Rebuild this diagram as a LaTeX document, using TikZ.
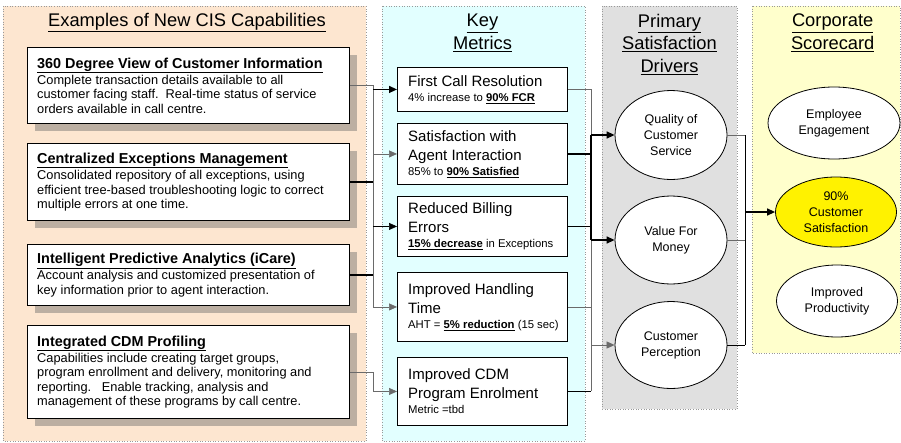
\documentclass[tikz,border=0pt]{standalone}
\usepackage{fontspec}
\setmainfont{Liberation Sans}
\usetikzlibrary{shapes.geometric,arrows.meta,shadows}
\definecolor{peach}{HTML}{FDE6D0}
\definecolor{cyanbg}{HTML}{E2FFFF}
\definecolor{greybg}{HTML}{E0E0E0}
\definecolor{yellowbg}{HTML}{FFFFCC}
\definecolor{shadowc}{HTML}{BCAFA2}
\definecolor{linegrey}{HTML}{6A6A6A}
\begin{document}
\begin{tikzpicture}[x=1pt,y=-1pt,
  panel/.style={draw=gray!80, dotted, line width=0.6pt},
  ttl/.style={font=\fontsize{18.3}{22.5}\selectfont, align=center, inner sep=0pt, anchor=north},
  capbox/.style={draw=black, line width=0.9pt, fill=white, rectangle, anchor=north west,
     minimum width=322pt, inner sep=0pt,
     general shadow={fill=shadowc, shadow xshift=8pt, shadow yshift=-8pt}},
  captext/.style={anchor=west, align=left, inner sep=0pt, font=\fontsize{12.8}{14.4}\selectfont},
  mbox/.style={draw=black, line width=0.9pt, fill=white, rectangle, anchor=north west,
     minimum width=170pt, inner sep=0pt},
  mtext/.style={anchor=west, align=left, inner sep=0pt, font=\fontsize{15}{19}\selectfont},
  ell/.style={ellipse, draw=black, line width=0.8pt, fill=white, inner sep=0pt,
     align=center, font=\fontsize{12.5}{16}\selectfont},
  thinc/.style={draw=linegrey, line width=0.7pt},
  thickc/.style={draw=black, line width=1.3pt},
  tip/.style={-{Triangle[length=8pt,width=7pt]}}
]
\newcommand{\smalltxt}{\fontsize{11.3}{12}\selectfont}
\newcommand{\caphd}[1]{{\fontsize{14.4}{14.4}\selectfont\bfseries\underline{#1}}}
\useasboundingbox (0,0) rectangle (901,442);
% panels
\fill[peach] (3,6) rectangle (366,441);
\draw[panel] (3,6) rectangle (366,441);
\fill[cyanbg] (382,6) rectangle (585,441);
\draw[panel] (382,6) rectangle (585,441);
\fill[greybg] (602,6) rectangle (737,409);
\draw[panel] (602,6) rectangle (737,409);
\fill[yellowbg] (752,6) rectangle (900,353);
\draw[panel] (752,6) rectangle (900,353);

% titles
\node[ttl] (t1) at (187,13) {\underline{Examples of New CIS Capabilities}};
\node[ttl] (t2) at (482.5,14) {\underline{Key}\\\underline{Metrics}};
\node[ttl] (t3) at (669.5,14) {\underline{Primary}\\\underline{Satisfaction}\\\underline{Drivers}};
\node[ttl] (t4) at (832.7,14) {\underline{Corporate}\\\underline{Scorecard}};

% capability boxes
\node[capbox, minimum height=76pt] (c1) at (27,47) {};
\node[captext] (c1t) at ([xshift=10pt]c1.west) {\caphd{360 Degree View of Customer Information}\\[2pt]
Complete transaction details available to all\\
customer facing staff.\ \ Real-time status of service\\
orders available in call centre.};

\node[capbox, minimum height=77pt] (c2) at (27,143) {};
\node[captext] (c2t) at ([xshift=10pt]c2.west) {\caphd{Centralized Exceptions Management}\\[2pt]
Consolidated repository of all exceptions, using\\
efficient tree-based troubleshooting logic to correct\\
multiple errors at one time.};

\node[capbox, minimum height=61pt] (c3) at (27,244) {};
\node[captext] (c3t) at ([xshift=10pt]c3.west) {\caphd{Intelligent Predictive Analytics (iCare)}\\[2pt]
Account analysis and customized presentation of\\
key information prior to agent interaction.};

\node[capbox, minimum height=93pt] (c4) at (27,325) {};
\node[captext] (c4t) at ([xshift=10pt]c4.west) {\caphd{Integrated CDM Profiling}\\[2pt]
Capabilities include creating target groups,\\
program enrollment and delivery, monitoring and\\
reporting.\ \ \ Enable tracking, analysis and\\
management of these programs by call centre.};

% metric boxes
\node[mbox, minimum height=44pt] (m1) at (397,67) {};
\node[mtext] (m1t) at ([xshift=11pt]m1.west) {First Call Resolution\\[-4pt]
{\smalltxt 4\% increase to \textbf{\underline{90\% FCR}}}};

\node[mbox, minimum height=61pt] (m2) at (397,123) {};
\node[mtext] (m2t) at ([xshift=11pt]m2.west) {Satisfaction with\\Agent Interaction\\[-4pt]
{\smalltxt 85\% to \textbf{\underline{90\% Satisfied}}}};

\node[mbox, minimum height=60pt] (m3) at (397,196) {};
\node[mtext] (m3t) at ([xshift=11pt]m3.west) {Reduced Billing\\Errors\\[-4pt]
{\smalltxt \textbf{\underline{15\% decrease}} in Exceptions}};

\node[mbox, minimum height=69pt] (m4) at (397,272) {};
\node[mtext] (m4t) at ([xshift=11pt]m4.west) {Improved Handling\\Time\\[-4pt]
{\smalltxt AHT = \textbf{\underline{5\% reduction}} (15 sec)}};

\node[mbox, minimum height=68pt] (m5) at (397,357) {};
\node[mtext] (m5t) at ([xshift=11pt]m5.west) {Improved CDM\\Program Enrolment\\[-4pt]
{\smalltxt Metric =tbd}};

% driver ellipses
\node[ell, minimum width=112pt, minimum height=89pt] (q) at (671,135) {Quality of\\Customer\\Service};
\node[ell, minimum width=112pt, minimum height=88pt] (v) at (671,240) {Value For\\Money};
\node[ell, minimum width=112pt, minimum height=87pt] (p) at (671,345) {Customer\\Perception};

% scorecard ellipses
\node[ell, minimum width=132pt, minimum height=72pt] (e) at (834,123) {Employee\\Engagement};
\node[ell, fill=yellow, minimum width=121pt, minimum height=70pt] (s) at (836,212) {90\%\\Customer\\Satisfaction};
\node[ell, minimum width=121pt, minimum height=72pt] (ip) at (837,301) {Improved\\Productivity};

% bus coordinates
\coordinate (lb) at (373,0);
\coordinate (rb) at (591,0);
\coordinate (eb) at (745,0);

% left connectors
\draw[thinc] (c1.east) -- (c1.east -| lb);
\draw[thickc] (c2.east) -- (c2.east -| lb);
\draw[thickc] (c3.east) -- (c3.east -| lb);
\draw[thinc] (c1.east -| lb) -- (m4.west -| lb);
\draw[thickc,tip] (m1.west -| lb) -- (m1.west);
\draw[thinc,tip] (m2.west -| lb) -- (m2.west);
\draw[thinc,draw=black,tip] (m3.west -| lb) -- (m3.west);
\draw[thinc,tip] (m4.west -| lb) -- (m4.west);
\draw[thinc,tip] (c4.east) -| (m5.west -| lb) -- (m5.west);

% middle connectors
\draw[thinc] (m1.east) -- (m1.east -| rb);
\draw[thickc] (m2.east) -- (m2.east -| rb);
\draw[thickc] (m3.east) -- (m3.east -| rb);
\draw[thinc] (m4.east) -- (m4.east -| rb);
\draw[thinc,draw=black] (m5.east) -- (m5.east -| rb);
\draw[thinc] (m1.east -| rb) -- (q.west -| rb);
\draw[thickc] (q.west -| rb) -- (v.west -| rb);
\draw[thinc] (v.west -| rb) -- (m5.east -| rb);
\draw[thickc,tip] (q.west -| rb) -- (q.west);
\draw[thickc,tip] (v.west -| rb) -- (v.west);
\draw[thinc,tip] (p.west -| rb) -- (p.west);

% right connectors
\draw[thinc] (q.east) -- (q.east -| eb);
\draw[thinc] (v.east) -- (v.east -| eb);
\draw[thinc,draw=black] (p.east) -- (p.east -| eb);
\draw[thinc,draw=black] (q.east -| eb) -- (p.east -| eb);
\draw[thickc,tip] (s.west -| eb) -- (s.west);
\end{tikzpicture}
\end{document}
